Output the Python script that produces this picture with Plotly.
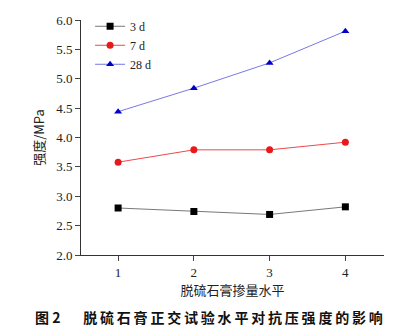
import plotly.graph_objects as go

levels = [1, 2, 3, 4]
s3d = [2.80, 2.74, 2.69, 2.82]
s7d = [3.58, 3.79, 3.79, 3.92]
s28d = [4.44, 4.84, 5.27, 5.81]
names = ["3 d", "7 d", "28 d"]
yticks = [2.0, 2.5, 3.0, 3.5, 4.0, 4.5, 5.0, 5.5, 6.0]
caption_label = "图 2"
caption_title = "脱硫石膏正交试验水平对抗压强度的影响"

serif = "Liberation Serif, Times New Roman, serif"
cjk = "Noto Sans CJK SC"

fig = go.Figure()
styles = [
    (s3d, "#000000", "#555555", "square"),
    (s7d, "#e8191c", "#e8191c", "circle"),
    (s28d, "#0000cc", "#5555dd", "triangle-up"),
]
for name, (vals, mcol, lcol, sym) in zip(names, styles):
    fig.add_trace(go.Scatter(
        x=levels, y=vals, name=name, mode="lines+markers",
        line=dict(color=lcol, width=0.8),
        marker=dict(color=mcol, symbol=sym, size=7),
    ))

fig.update_layout(
    width=416, height=334,
    margin=dict(l=81, r=32, t=12, b=79),
    paper_bgcolor="white", plot_bgcolor="white",
    font=dict(family=serif, size=13, color="#222222"),
    showlegend=True,
    legend=dict(x=0.03, y=1.035, xanchor="left", yanchor="top",
                font=dict(family=serif, size=12), bgcolor="rgba(0,0,0,0)",
                tracegroupgap=0, itemwidth=30),
    xaxis=dict(range=[0.51, 4.51], tickvals=levels, ticks="outside", ticklen=5,
               showline=True, linecolor="#333333", linewidth=1, showgrid=False,
               zeroline=False, tickfont=dict(family=serif, size=13),
               title=dict(text="脱硫石膏掺量水平", font=dict(family=cjk, size=13), standoff=6)),
    yaxis=dict(range=[2.0, 6.0], tickvals=yticks, ticktext=[f"{v:.1f}" for v in yticks],
               ticks="outside", ticklen=5,
               showline=True, linecolor="#333333", linewidth=1, showgrid=False,
               zeroline=False, tickfont=dict(family=serif, size=13),
               title=dict(text="强度/MPa", font=dict(family=cjk, size=13), standoff=8)),
)
spaced = "\u2009".join(caption_title)
fig.add_annotation(
    text=f"<b>{caption_label}\u2009\u2009　 {spaced}</b>",
    xref="paper", yref="paper", x=-0.16, y=-0.265, xanchor="left", yanchor="middle",
    showarrow=False, font=dict(family=cjk, size=14, color="#111111"),
)
fig.write_html("out.html")
